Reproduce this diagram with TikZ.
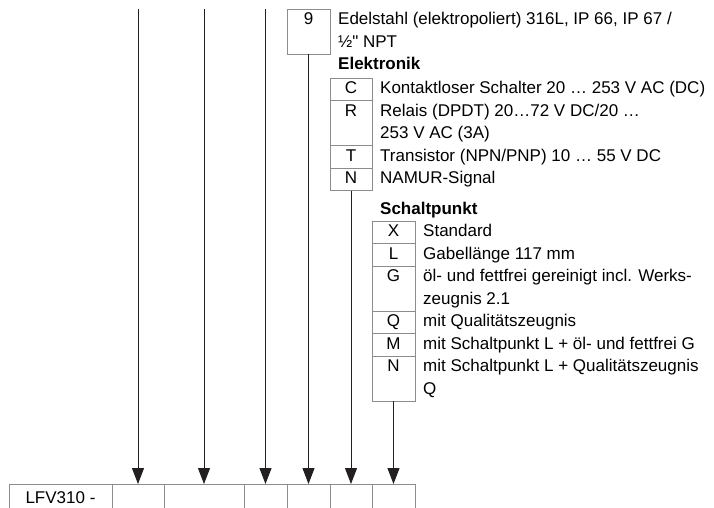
\documentclass[tikz,border=0pt]{standalone}
\usepackage{fontspec}
\setmainfont{Liberation Sans}[Ligatures=TeXOff]
\usepackage{xcolor}
\usetikzlibrary{arrows.meta, positioning, calc}
\definecolor{rulegray}{gray}{0.55}
\definecolor{inkblack}{HTML}{231F20}
\newcommand{\codefont}{\fontsize{17}{22.5}\selectfont}
\tikzset{
  codebox/.style={
    rectangle, draw=rulegray, line width=0.9pt,
    minimum width=#1, inner xsep=0pt, inner ysep=0pt, outer sep=0pt,
    align=center, font=\codefont
  },
  codebox/.default=42pt,
  desc/.style={
    anchor=north west, inner xsep=8pt, inner ysep=0pt,
    align=left, font=\codefont
  },
  grouptitle/.style={
    anchor=north west, inner xsep=8pt, inner ysep=0pt,
    font=\codefont\bfseries
  },
  cell/.style={
    rectangle, draw=rulegray, line width=0.9pt,
    minimum width=#1, minimum height=30pt,
    inner sep=0pt, outer sep=0pt, font=\codefont
  },
  feed/.style={-{Triangle[width=12pt,length=16pt]}, line width=1pt, draw=inkblack}
}

\begin{document}
\begin{tikzpicture}[x=1pt, y=-1pt, node distance=0pt]
  \useasboundingbox (0,0) rectangle (714,508);

  \node[cell=103pt, anchor=north west] (cell0) at (9,484) {\strut LFV310 -};
  \node[cell=52pt, right=of cell0] (cell1) {};
  \node[cell=80pt, right=of cell1] (cell2) {};
  \node[cell=43pt, right=of cell2] (cell3) {};
  \node[cell=43pt, right=of cell3] (cell4) {};
  \node[cell=42pt, right=of cell4] (cell5) {};
  \node[cell=43pt, right=of cell5] (cell6) {};

  \node[codebox=43pt, anchor=north west] (mat9) at (287,9) {\strut 9\\\strut};
  \node[desc] (dmat9) at (mat9.north east)
    {\strut Edelstahl (elektropoliert) 316L, IP 66, IP 67 /\\\strut ½" NPT};

  \node[grouptitle] (ttlElek) at (mat9.south east) {\strut Elektronik};
  \node[codebox, anchor=north west] (elC) at (330,78) {\strut C};
  \node[codebox, below=of elC] (elR) {\strut R\\\strut};
  \node[codebox, below=of elR] (elT) {\strut T};
  \node[codebox, below=of elT] (elN) {\strut N};
  \node[desc] (dC) at (elC.north east) {\strut Kontaktloser Schalter 20 … 253 V AC (DC)};
  \node[desc] (dR) at (elR.north east) {\strut Relais (DPDT) 20…72 V DC/20 …\\\strut 253 V AC (3A)};
  \node[desc] (dT) at (elT.north east) {\strut Transistor (NPN/PNP) 10 … 55 V DC};
  \node[desc] (dN) at (elN.north east) {\strut NAMUR-Signal};

  \node[grouptitle] (ttlSchalt) at (372,198.5) {\strut Schaltpunkt};
  \node[codebox=43pt, anchor=north west] (spX) at (372,221) {\strut X};
  \node[codebox=43pt, below=of spX] (spL) {\strut L};
  \node[codebox=43pt, below=of spL] (spG) {\strut G\\\strut};
  \node[codebox=43pt, below=of spG] (spQ) {\strut Q};
  \node[codebox=43pt, below=of spQ] (spM) {\strut M};
  \node[codebox=43pt, below=of spM] (spN) {\strut N\\\strut};
  \node[desc] (dX) at (spX.north east) {\strut Standard};
  \node[desc] (dL) at (spL.north east) {\strut Gabellänge 117 mm};
  \node[desc] (dG) at (spG.north east) {\strut öl- und fettfrei gereinigt incl. Werks-\\\strut zeugnis 2.1};
  \node[desc] (dQ) at (spQ.north east) {\strut mit Qualitätszeugnis};
  \node[desc] (dM) at (spM.north east) {\strut mit Schaltpunkt L + öl- und fettfrei G};
  \node[desc] (dNq) at (spN.north east) {\strut mit Schaltpunkt L + Qualitätszeugnis\\\strut Q};

  \coordinate (top1) at (cell1.north |- mat9.north);
  \coordinate (top2) at (cell2.north |- mat9.north);
  \coordinate (top3) at (cell3.north |- mat9.north);

  \draw[feed] (top1) -- (cell1.north);
  \draw[feed] (top2) -- (cell2.north);
  \draw[feed] (top3) -- (cell3.north);
  \draw[feed] (mat9.south) -- (cell4.north);
  \draw[feed] (elN.south) -- (cell5.north);
  \draw[feed] (spN.south) -- (cell6.north);
\end{tikzpicture}
\end{document}
